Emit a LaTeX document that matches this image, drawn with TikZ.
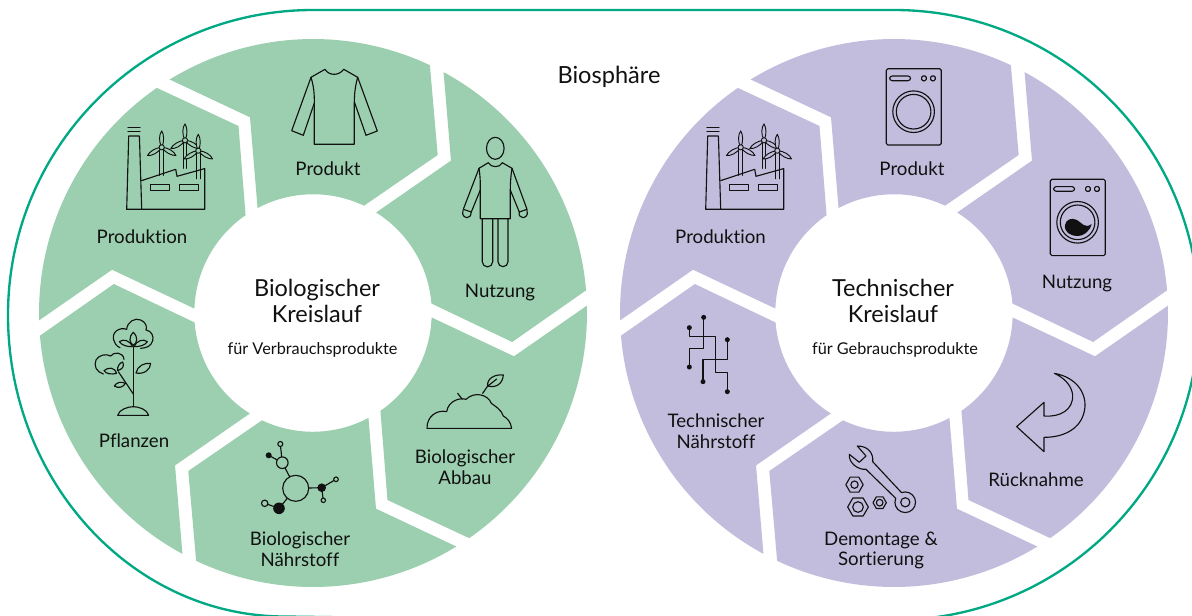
\documentclass[tikz,border=0pt]{standalone}
\usepackage{fontspec}
\setmainfont{Lato}[Ligatures=NoCommon]
\definecolor{biogreen}{HTML}{9BCFAF}
\definecolor{techpurple}{HTML}{C3BDDD}
\definecolor{rimgreen}{HTML}{00A884}
\definecolor{ink}{HTML}{111111}
\tikzset{
  seg/.pic={
    \fill[pic actions] (-121.54:274) arc[start angle=-121.54,end angle=-64.75,radius=274]
      -- (124.7,-158) -- (51,-107.3)
      arc[start angle=-64.6,end angle=-117.95,radius=118.6]
      -- (-63,-195.7) -- cycle;
  },
  icon/.style={draw=ink,line width=.85pt,line join=round,line cap=round},
  lab/.style={inner sep=0pt,align=center,text=ink,font=\fontsize{14}{15.6}\selectfont},
  big/.style={inner sep=0pt,align=center,text=ink,font=\fontsize{17.6}{19.5}\selectfont},
  small/.style={inner sep=0pt,align=center,text=ink,font=\fontsize{12.2}{13}\selectfont},
  turbine/.pic={
    \draw[icon] (-1.8,2.5) -- (-1.8,28) (1.9,2.5) -- (1.9,28);
    \foreach \r in {0,120,240}{
      \draw[pic actions,icon,rotate=\r,line width=.7pt]
        (0,0) .. controls (-3.2,-6) and (-2.6,-13) .. (0,-16.4) .. controls (2.2,-13) and (3,-6) .. (0,0);}
    \draw[pic actions,icon,line width=.7pt] (0,0) circle[radius=2.6];
  },
  factory/.pic={
    \draw[icon] (0,0) -- (2,-73.3) -- (12.7,-73.3) -- (15,0) -- cycle;
    \draw[icon] (1.3,-82) -- (13.3,-82) (1.3,-77.7) -- (13.3,-77.7);
    \draw[icon] (15,0) -- (78,0) -- (78,-40.7) -- (50.3,-33) -- (49,-40) -- (15,-28.7);
    \draw[icon] (24,-25) rectangle (43,-19) (53,-25) rectangle (72,-19);
  },
  washer/.pic={
    \draw[icon,rounded corners=1.2pt] (0,0) rectangle (55,76.3);
    \draw[icon,rounded corners=2pt] (3.3,7.3) rectangle (24.3,12);
    \draw[icon,rounded corners=1pt] (35.3,7.3) rectangle (40,12) (44.3,7.3) rectangle (49,12);
    \draw[icon] (27.3,43) circle[radius=20.8] (27.3,43) circle[radius=17.3];
  }
}
\begin{document}
\begin{tikzpicture}[x=0.75pt,y=0.75pt,yscale=-1]
\useasboundingbox (0,0) rectangle (1192,615);
\fill[white] (0,0) rectangle (1192,615);
\begin{scope}
\clip (0,0) rectangle (1192,615);
\draw[rimgreen,line width=1.75pt]
  (313,10) arc[start angle=-90,end angle=-180,radius=305]
  .. controls (8,481) and (132,616.5) .. (285,616.5) -- (894,625) -- (894,620)
  arc[start angle=90,end angle=-90,radius=305] -- cycle;
\end{scope}
% rings
\foreach \a in {0,60,...,300}{
  \pic[biogreen,transform shape,rotate=\a] at (313,313) {seg};
  \pic[techpurple,transform shape,rotate=\a] at (894,313) {seg};
}
% ---- texts
\node[big,font=\fontsize{17.7}{20}\selectfont] (bio) at (609,76.5) {Biosphäre};
\node[big] (bt) at (317,301) {Biologischer\\Kreislauf};
\node[small] (bs) at (312.5,349.5) {für Verbrauchsprodukte};
\node[big] (tt) at (893,301) {Technischer\\Kreislauf};
\node[small] (ts) at (895,349.5) {für Gebrauchsprodukte};
\node[lab] (l1) at (328,169) {Produkt};
\node[lab] (l2) at (500,292.5) {Nutzung};
\node[lab] (l3) at (465,467) {Biologischer\\Abbau};
\node[lab] (l4) at (300,549) {Biologischer\\Nährstoff};
\node[lab] (l5) at (134,441) {Pflanzen};
\node[lab] (l6) at (142,237) {Produktion};
\node[lab] (r1) at (912,169) {Produkt};
\node[lab] (r2) at (1077,283.5) {Nutzung};
\node[lab] (r3) at (1036,480) {Rücknahme};
\node[lab] (r4) at (881,550.5) {Demontage \&\\Sortierung};
\node[lab] (r5) at (716,431) {Technischer\\Nährstoff};
\node[lab] (r6) at (720.5,237) {Produktion};
% ---- factories
\foreach \ox/\col in {0/biogreen,579/techpurple}{
\begin{scope}[xshift=\ox*0.75pt]
  \pic[fill=\col,transform shape] at (161.7,147.3) {turbine};
  \pic[fill=\col,transform shape] at (185,140.3) {turbine};
  \pic[fill=\col,transform shape] at (198.3,150.7) {turbine};
  \pic[transform shape] at (126.7,209.3) {factory};
\end{scope}}
% ---- sweater
\draw[icon] (311,77.3) -- (325,69.3) .. controls (329,76) and (339,76) .. (343.7,69.3) -- (357.7,77.3)
  .. controls (354,90) and (354.3,100) .. (354.3,110) -- (354.3,144.3) -- (314.3,144.3) -- (314.3,110)
  .. controls (314.3,100) and (315,90) .. (311,77.3) -- cycle;
\draw[icon] (311,77.3) -- (291.7,130.7) -- (303.3,135.3) -- (314.3,103);
\draw[icon] (357.7,77.3) -- (377.3,131) -- (366,135.3) -- (354.3,101.7);
% ---- person
\draw[icon] (495.3,148.3) ellipse[x radius=8.8,y radius=11];
\draw[icon] (479,168.3) -- (488.3,162.7) .. controls (491,168) and (500,168) .. (502.3,162.7) -- (512,168.3)
  .. controls (510.5,178) and (510.3,185) .. (510.3,190) -- (510.3,218.7) -- (480.3,218.7) -- (480.3,190)
  .. controls (480.3,185) and (480.5,178) .. (479,168.3) -- cycle;
\draw[icon] (479,168.3) -- (463.3,209.3) -- (471.3,212) -- (480.3,190);
\draw[icon] (512,168.3) -- (527,209.3) -- (519.3,212) -- (510.3,190);
\draw[icon] (463,210.5) .. controls (461,216) and (466,218) .. (467.5,217.5) .. controls (470,217.5) and (471.5,215) .. (471.3,212);
\draw[icon] (527,210.5) .. controls (529,216) and (524,218) .. (522.5,217.5) .. controls (520,217.5) and (518.5,215) .. (519.3,212);
\draw[icon] (482.3,219.3) -- (482.3,261.7) arc[start angle=180,end angle=0,radius=5.2] -- (492.7,219.3);
\draw[icon] (498,219.3) -- (498,261.7) arc[start angle=180,end angle=0,radius=5] -- (508,219.3);
% ---- plant
\begin{scope}[shift={(20,300)},x=0.25pt,y=0.25pt]
\draw[icon] (340,140) -- (340,320);
\draw[icon] (293,346) -- (386,346) (293,346) .. controls (297,328) and (325,320) .. (340,320) .. controls (355,320) and (382,328) .. (386,346);
\draw[icon] (340,282) -- (295,215);
\draw[icon] (300,143) .. controls (280,135) and (272,105) .. (290,92) .. controls (298,86) and (310,84) .. (320,88)
  .. controls (322,65) and (345,52) .. (362,60) .. controls (377,66) and (382,80) .. (378,90)
  .. controls (395,92) and (402,110) .. (398,122) .. controls (394,138) and (380,144) .. (362,145);
\draw[icon] (298,125) .. controls (310,116) and (328,120) .. (338,140) .. controls (320,140) and (305,136) .. (298,125) -- cycle;
\draw[icon] (382,125) .. controls (370,116) and (352,120) .. (342,140) .. controls (360,140) and (375,136) .. (382,125) -- cycle;
\draw[icon] (340,97) .. controls (325,112) and (328,128) .. (340,136) .. controls (352,128) and (355,112) .. (340,97) -- cycle;
\draw[icon] (250,222) .. controls (230,216) and (220,198) .. (228,180) .. controls (236,165) and (258,160) .. (272,168)
  .. controls (280,155) and (310,155) .. (312,178);
\draw[icon] (252,212) .. controls (265,200) and (285,202) .. (290,220) .. controls (275,224) and (258,222) .. (252,212) -- cycle;
\draw[icon] (292,212) .. controls (292,198) and (300,188) .. (308,186) .. controls (314,198) and (308,208) .. (292,212) -- cycle;
\draw[icon] (348,219) .. controls (352,198) and (372,188) .. (392,190) .. controls (392,208) and (372,224) .. (348,219) -- cycle;
\draw[icon] (283,258) .. controls (290,246) and (305,244) .. (316,250) .. controls (310,262) and (295,266) .. (283,258) -- cycle;
\end{scope}
% ---- molecule
\draw[icon] (295.7,488.3) -- (282.3,462.7) -- (280.3,444)  (282.3,462.7) -- (268.7,455.3)
  (295.7,488.3) -- (279,508.3) -- (264.7,503.3)
  (295.7,488.3) -- (321.7,487.7) -- (336,479.3) (321.7,487.7) -- (323.3,500.3);
\draw[icon,fill=biogreen] (295.7,488.3) circle[radius=13] (282.3,462.7) circle[radius=5.8]
  (280.3,444) circle[radius=2.5] (264.7,503.3) circle[radius=3.2] (336,479.3) circle[radius=2.3] (323.3,500.3) circle[radius=2.2];
\fill[ink] (268.7,455.3) circle[radius=3] (279,508.3) circle[radius=5.8] (321.7,487.7) circle[radius=4.3];
% ---- soil with sprout
\begin{scope}[shift={(300,320)},x=0.25pt,y=0.25pt]
\draw[icon] (381,325) -- (635,325) .. controls (632,305) and (622,295) .. (610,288) .. controls (605,270) and (585,258) .. (574,250)
  .. controls (565,225) and (525,212) .. (498,238) .. controls (480,232) and (445,242) .. (440,275)
  .. controls (410,268) and (380,290) .. (381,325);
\draw[icon] (473,220) -- (487,238);
\draw[icon] (548,220) -- (565,195);
\draw[icon] (563,198) .. controls (560,175) and (585,162) .. (610,165) .. controls (608,190) and (590,205) .. (563,198) -- cycle;
\draw[icon] (565,197) -- (590,177);
\end{scope}
% ---- washers
\pic[transform shape] at (886.3,68.7) {washer};
\pic[transform shape] at (1050.3,179.3) {washer};
\fill[ink] (1065,225) .. controls (1066,219) and (1072,217.5) .. (1077,220) .. controls (1082,223) and (1085,229) .. (1091.7,224)
  .. controls (1089.5,232) and (1083,236) .. (1078,236) .. controls (1070,236) and (1064,232) .. (1065,225) -- cycle;
% ---- circuit
\begin{scope}[shift={(610,300)},x=0.25pt,y=0.25pt]
\draw[icon] (281,52) -- (281,145) -- (238,145) -- (238,201);
\draw[icon] (238,83) -- (238,110) -- (317,110) -- (317,217) -- (352,217) -- (352,275);
\draw[icon] (352,119) -- (352,179) -- (279,179) -- (279,245);
\fill[ink] (281,52) circle[radius=7.5] (238,83) circle[radius=7.5] (352,119) circle[radius=7.5]
  (238,201) circle[radius=7.5] (279,245) circle[radius=7.5] (352,275) circle[radius=7.5];
\end{scope}
% ---- wrench and nuts
\draw[icon] (857.3,446) -- (866,456) -- (859.3,462.3) -- (849.3,454.3)
  .. controls (848.5,463) and (858,470) .. (866,469.3) -- (895.7,498.3)
  arc[start angle=202.5,end angle=-111,radius=10.3]
  -- (872.7,461.7) .. controls (873.5,454) and (869,446) .. (857.3,446) -- cycle;
\draw[icon] (905.3,502.3) circle[radius=4.6];
\begin{scope}[shift={(610,300)},x=0.25pt,y=0.25pt]
\foreach \cx/\cy/\ro/\ri in {733.5/554/26/11,744/621/31/16,809/608/20/10}{
  \draw[icon] (\cx,\cy) circle[radius=\ri];
  \draw[icon] ({\cx+\ro},\cy) -- ({\cx+\ro*0.5},{\cy+\ro*0.866}) -- ({\cx-\ro*0.5},{\cy+\ro*0.866})
     -- ({\cx-\ro},\cy) -- ({\cx-\ro*0.5},{\cy-\ro*0.866}) -- ({\cx+\ro*0.5},{\cy-\ro*0.866}) -- cycle;}
\end{scope}
% ---- return arrow
\begin{scope}[shift={(880,290)},x=0.25pt,y=0.25pt]
\draw[icon] (523,250) .. controls (590,262) and (618,310) .. (615,350) .. controls (610,410) and (560,442) .. (492,442)
  -- (492,485) -- (410,410) -- (492,337) -- (492,378)
  .. controls (540,382) and (580,360) .. (578,315) .. controls (575,285) and (550,262) .. (523,250) -- cycle;
\end{scope}
\end{tikzpicture}
\end{document}
